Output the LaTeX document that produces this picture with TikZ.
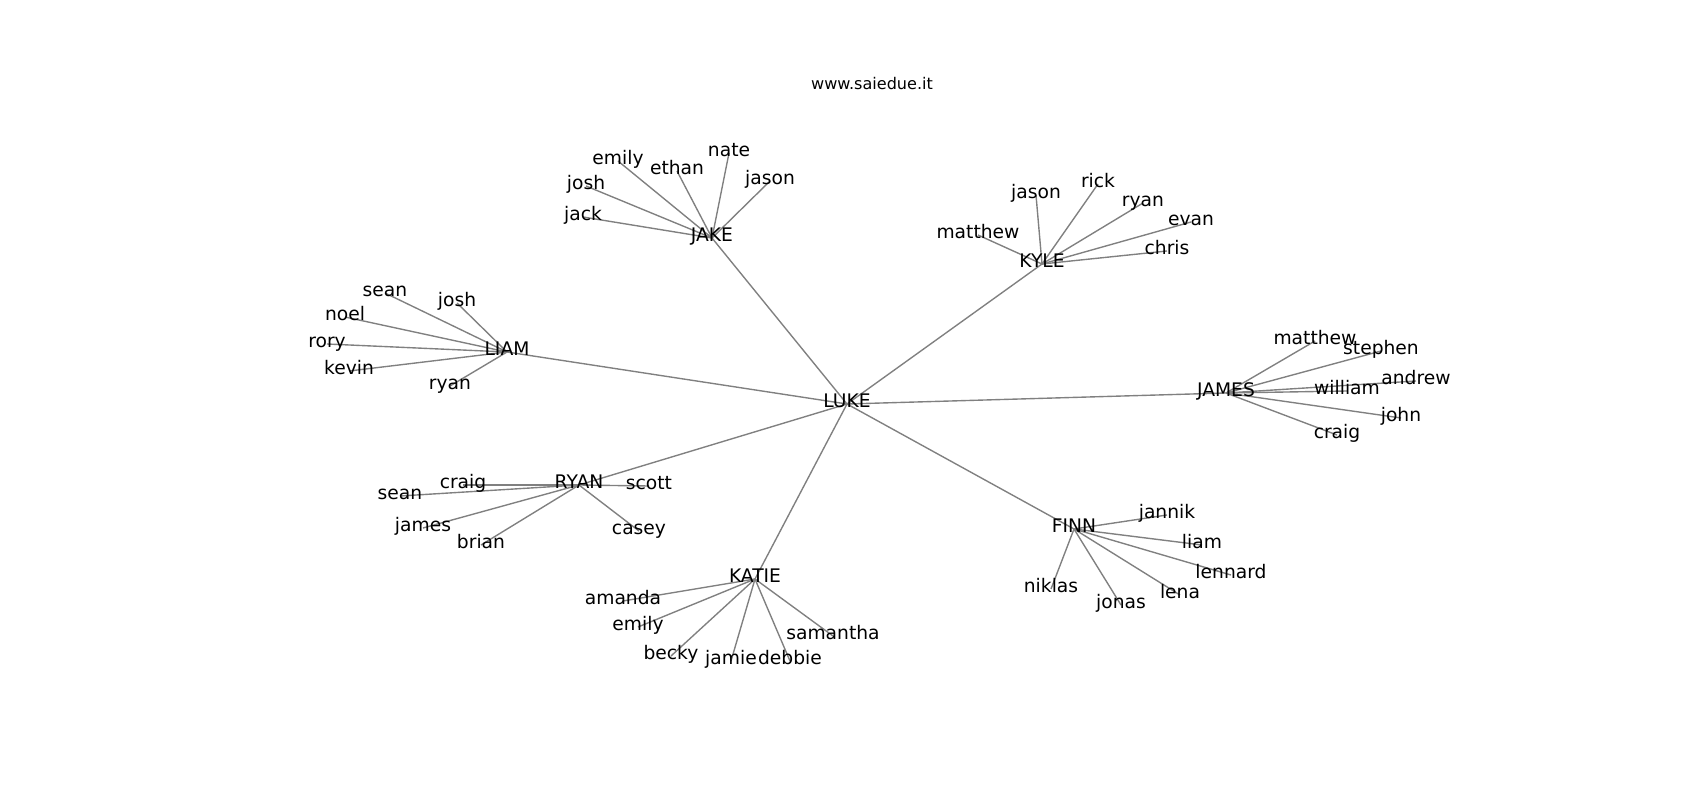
\documentclass[tikz,border=0pt]{standalone}
\usepackage{fontspec}
\setmainfont{DejaVu Sans}
\usetikzlibrary{backgrounds}

\tikzset{
  person/.style={inner sep=0pt, text height=0.76em, text depth=0.24em, font=\fontsize{13.5}{16}\selectfont},
  link/.style={draw=gray, line width=1pt}
}

\begin{document}
\begin{tikzpicture}[x=0.01in, y=-0.01in]
  \useasboundingbox (0,-3) rectangle (1700,797);

  \node[inner sep=0pt, text height=0.76em, text depth=0.24em, font=\fontsize{11.6}{14}\selectfont] (title) at (872,83) {www.saiedue.it};

  % Centre
  \node[person] (luke) at (847,401) {LUKE};

  % Hubs
  \node[person] (jake) at (712,235) {JAKE};
  \node[person] (kyle) at (1042,261) {KYLE};
  \node[person] (liam) at (507,349) {LIAM};
  \node[person] (james) at (1226,390) {JAMES};
  \node[person] (ryan) at (579,482) {RYAN};
  \node[person] (katie) at (755,576) {KATIE};
  \node[person] (finn) at (1074,526) {FINN};

  % JAKE
  \node[person] (jakeemily) at (618,158) {emily};
  \node[person] (jakejosh) at (586,183) {josh};
  \node[person] (jakejack) at (583,214) {jack};
  \node[person] (jakeethan) at (677,168) {ethan};
  \node[person] (jakenate) at (729,150) {nate};
  \node[person] (jakejason) at (770,178) {jason};

  % KYLE
  \node[person] (kylejason) at (1036,192) {jason};
  \node[person] (kylerick) at (1098,181) {rick};
  \node[person] (kyleryan) at (1143,200) {ryan};
  \node[person] (kyleevan) at (1191,219) {evan};
  \node[person] (kylechris) at (1167,248) {chris};
  \node[person] (kylematthew) at (978,232) {matthew};

  % LIAM
  \node[person] (liamsean) at (385,290) {sean};
  \node[person] (liamjosh) at (457,300) {josh};
  \node[person] (liamnoel) at (345,314) {noel};
  \node[person] (liamrory) at (327,341) {rory};
  \node[person] (liamkevin) at (349,368) {kevin};
  \node[person] (liamryan) at (450,383) {ryan};

  % JAMES
  \node[person] (jamesmatthew) at (1315,338) {matthew};
  \node[person] (jamesstephen) at (1381,348) {stephen};
  \node[person] (jamesandrew) at (1416,378) {andrew};
  \node[person] (jameswilliam) at (1347,388) {william};
  \node[person] (jamesjohn) at (1401,415) {john};
  \node[person] (jamescraig) at (1337,432) {craig};

  % RYAN
  \node[person] (ryancraig) at (463,482) {craig};
  \node[person] (ryanscott) at (649,483) {scott};
  \node[person] (ryansean) at (400,493) {sean};
  \node[person] (ryanjames) at (423,525) {james};
  \node[person] (ryanbrian) at (481,542) {brian};
  \node[person] (ryancasey) at (639,528) {casey};

  % KATIE
  \node[person] (katieamanda) at (623,598) {amanda};
  \node[person] (katieemily) at (638,624) {emily};
  \node[person] (katiebecky) at (671,653) {becky};
  \node[person] (katiejamie) at (731,658) {jamie};
  \node[person] (katiedebbie) at (790,658) {debbie};
  \node[person] (katiesamantha) at (833,633) {samantha};

  % FINN
  \node[person] (finnjannik) at (1167,512) {jannik};
  \node[person] (finnliam) at (1202,542) {liam};
  \node[person] (finnlennard) at (1231,572) {lennard};
  \node[person] (finnlena) at (1180,592) {lena};
  \node[person] (finnjonas) at (1121,602) {jonas};
  \node[person] (finnniklas) at (1051,586) {niklas};

  % Edges behind the names
  \begin{scope}[on background layer]
    \foreach \h in {jake,kyle,liam,james,ryan,katie,finn}
      \draw[link] (luke.center) -- (\h.center);
    \foreach \k in {emily,josh,jack,ethan,nate,jason}
      \draw[link] (jake.center) -- (jake\k.center);
    \foreach \k in {jason,rick,ryan,evan,chris,matthew}
      \draw[link] (kyle.center) -- (kyle\k.center);
    \foreach \k in {sean,josh,noel,rory,kevin,ryan}
      \draw[link] (liam.center) -- (liam\k.center);
    \foreach \k in {matthew,stephen,andrew,william,john,craig}
      \draw[link] (james.center) -- (james\k.center);
    \foreach \k in {craig,scott,sean,james,brian,casey}
      \draw[link] (ryan.center) -- (ryan\k.center);
    \foreach \k in {amanda,emily,becky,jamie,debbie,samantha}
      \draw[link] (katie.center) -- (katie\k.center);
    \foreach \k in {jannik,liam,lennard,lena,jonas,niklas}
      \draw[link] (finn.center) -- (finn\k.center);
  \end{scope}
\end{tikzpicture}
\end{document}
